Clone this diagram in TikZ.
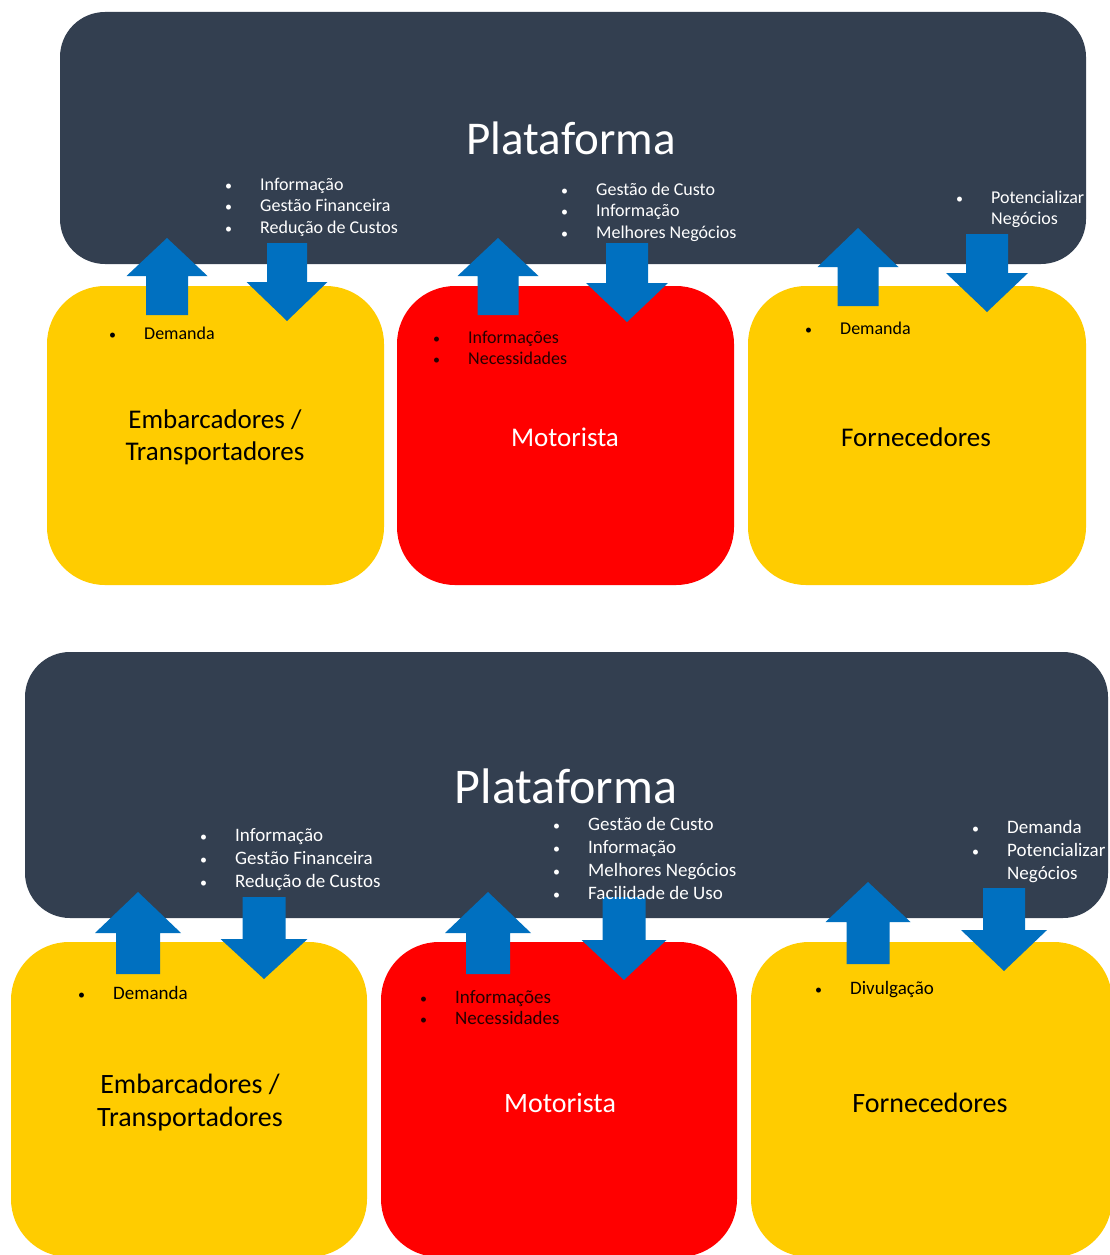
\documentclass[tikz,border=0pt]{standalone}
\usepackage{fontspec}
\setmainfont{Carlito}
\definecolor{plat}{HTML}{333F50}
\definecolor{ablue}{HTML}{0070C0}
\definecolor{ayel}{HTML}{FFCC00}
\definecolor{ared}{HTML}{FF0000}
\newcommand\bul{\makebox[36pt][l]{\hspace*{1pt}\fontsize{14}{14}\selectfont •}}
\newcommand\nob{\hspace*{36pt}}
\newcommand\blockarr[6]{\fill[ablue] (#1,#2) -- ({#1+#3},#5) -- ({#1+#4},#5) -- ({#1+#4},#6) -- ({#1-#4},#6) -- ({#1-#4},#5) -- ({#1-#3},#5) -- cycle;}
\tikzset{
  platbox/.style={fill=plat, rounded corners=45pt},
  ybox/.style={fill=ayel, rounded corners=58pt},
  rbox/.style={fill=ared, rounded corners=58pt},
  lsttop/.style={anchor=base west, align=left, inner sep=0pt, font=\fontsize{18}{21.5}\selectfont},
  lstbot/.style={anchor=base west, align=left, inner sep=0pt, font=\fontsize{19}{23}\selectfont},
}
\begin{document}
\begin{tikzpicture}[x=1pt,y=-1pt]
\useasboundingbox (0,0) rectangle (1109,1255);
\fill[white] (0,0) rectangle (1109,1255);
% ---------- top diagram ----------
\fill[platbox] (60,12) rectangle (1086,264);
\fill[ybox] (47,286) rectangle (384,585);
\fill[rbox] (397,286) rectangle (734,585);
\fill[ybox] (748,286) rectangle (1086,585);
\blockarr{167}{238}{40.5}{21}{276}{315}
\blockarr{287}{321}{40.5}{20}{282}{243}
\blockarr{498}{238}{40.5}{20.5}{276}{315}
\blockarr{627}{322}{41}{21}{283}{243}
\blockarr{858}{228}{40.5}{20.5}{267}{306}
\blockarr{987}{312}{41}{21}{273}{234}
\node[text=white, font=\fontsize{47}{56}\selectfont] (p1) at (571,138) {Plataforma};
\node[lsttop, text=white] (a1) at (224,233) {\bul Informação\\\bul Gestão Financeira\\\bul Redução de Custos};
\node[lsttop, text=white] (b1) at (560,238) {\bul Gestão de Custo\\\bul Informação\\\bul Melhores Negócios};
\node[lsttop, text=white] (c1) at (955,224.5) {\bul Potencializar\\\nob Negócios};
\node[lsttop, text=black] (d1) at (108,339) {\bul Demanda};
\node[lsttop, text=black!85!ared] (e1) at (432,364.5) {\bul Informações\\\bul Necessidades};
\node[lsttop, text=black] (f1) at (804,334) {\bul Demanda};
\node[align=center, font=\fontsize{27}{32}\selectfont] (g1) at (215,437) {Embarcadores /\\Transportadores};
\node[text=white, font=\fontsize{27}{32}\selectfont] (h1) at (565,437) {Motorista};
\node[font=\fontsize{27}{32}\selectfont] (i1) at (916,437) {Fornecedores};
% ---------- bottom diagram ----------
\fill[platbox] (25,652) rectangle (1108,918);
\fill[ybox] (11,942) rectangle (367,1257);
\fill[rbox] (381,942) rectangle (737,1257);
\fill[ybox] (751,942) rectangle (1112,1257);
\blockarr{138}{892}{43}{22}{933}{974}
\blockarr{264}{979}{43.5}{21.5}{939}{897}
\blockarr{488}{892}{43}{22}{933}{974}
\blockarr{624}{980}{42.5}{21.5}{940}{897}
\blockarr{868}{882}{42.5}{21.5}{922}{964}
\blockarr{1004}{971}{43}{21}{930}{888}
\node[text=white, font=\fontsize{50}{60}\selectfont] (p2) at (566,786) {Plataforma};
\node[lstbot, text=white] (a2) at (199,887) {\bul Informação\\\bul Gestão Financeira\\\bul Redução de Custos};
\node[lstbot, text=white] (b2) at (552,899) {\bul Gestão de Custo\\\bul Informação\\\bul Melhores Negócios\\\bul Facilidade de Uso};
\node[lstbot, text=white] (c2) at (971,879) {\bul Demanda\\\bul Potencializar\\\nob Negócios};
\node[lstbot, text=black] (d2) at (77,999) {\bul Demanda};
\node[lstbot, text=black!85!ared, font=\fontsize{19}{21.5}\selectfont] (e2) at (419,1024.5) {\bul Informações\\\bul Necessidades};
\node[lstbot, text=black] (f2) at (814,994) {\bul Divulgação};
\node[align=center, font=\fontsize{28}{33}\selectfont] (g2) at (190,1103) {Embarcadores /\\Transportadores};
\node[text=white, font=\fontsize{28}{33}\selectfont] (h2) at (560,1103) {Motorista};
\node[font=\fontsize{28}{33}\selectfont] (i2) at (930,1103) {Fornecedores};
\end{tikzpicture}
\end{document}
